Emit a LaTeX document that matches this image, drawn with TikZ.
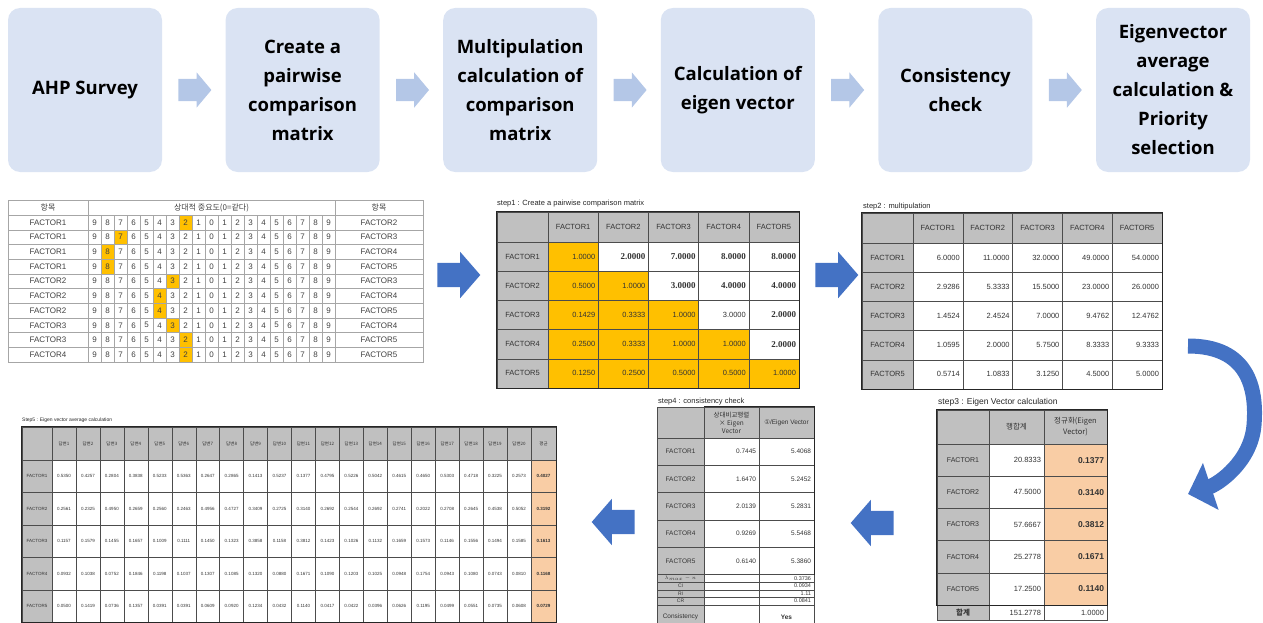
\documentclass[tikz,border=0pt]{standalone}
\usepackage{fontspec}
\setmainfont{Liberation Sans}
\newfontfamily\kr{Noto Sans CJK KR}
\newfontfamily\boxfont{Open Sans}
\newfontfamily\numserif{Liberation Serif}
\newfontfamily\symfont{DejaVu Sans}
\usetikzlibrary{positioning,shapes.arrows,arrows.meta}
\definecolor{boxblue}{HTML}{DAE3F3}
\definecolor{arrowlight}{HTML}{B4C7E7}
\definecolor{arrowblue}{HTML}{4472C4}
\definecolor{cellgray}{HTML}{C0C0C0}
\definecolor{cellorange}{HTML}{FFC000}
\definecolor{cellpeach}{HTML}{F9CDA5}
\newcommand\tabsize[1]{\fontsize{#1}{#1}\selectfont}
\newcommand\boldval[1]{{\numserif\bfseries\fontsize{9}{10}\selectfont #1}}
\begin{document}
\begin{tikzpicture}
        [x=1pt, y=-1pt,
        stepbox/.style={rounded corners=12pt, fill=boxblue, minimum width=154pt, minimum height=164pt, align=center, inner sep=2pt, font=\boxfont\bfseries\fontsize{18.5}{29}\selectfont},
        flowarrow/.style={single arrow, fill=arrowlight, inner xsep=0pt, inner ysep=11pt, minimum height=33pt, single arrow head extend=6.5pt, single arrow tip angle=100},
        bluearrow/.style={single arrow, fill=arrowblue, inner xsep=0pt, inner ysep=12pt, minimum height=43pt, single arrow head extend=11pt, single arrow tip angle=98},
        tabtitle/.style={anchor=west, inner sep=0pt, text=black!85},
        svcell/.style={draw=black!35, inner sep=0pt, text=black!75, font=\tabsize{8}},
        hcell/.style={draw=black!70, fill=cellgray, inner sep=0pt, align=center, text=black!80},
        vcell/.style={draw=black!70, inner xsep=3pt, inner ysep=0pt, align=right, text=black!80},
        ccell/.style={draw=black!70, inner sep=0pt, text=black!80}]
        \useasboundingbox (0,0) rectangle (1263,623);

        % process steps
        \foreach \i/\txt in {0/{AHP Survey}, 1/{Create a\\pairwise\\comparison\\matrix},
                2/{Multipulation\\calculation of\\comparison\\matrix}, 3/{Calculation of\\eigen vector},
                4/{Consistency\\check}, 5/{Eigenvector\\average\\calculation \&\\Priority\\selection}}
            \node [stepbox] (box\i) at ({85+217.6*\i},90) {\txt};
        \foreach \i in {0,...,4}
            \node [flowarrow, right=16pt of box\i] (flow\i) {};

        % survey sheet
        \node [svcell, minimum width=80, minimum height=15] (sv-h1) at (48,207.5) {\kr 항목};
        \node [svcell, minimum width=247, minimum height=15] (sv-h2) at (211.5,207.5) {\kr 상대적 중요도(0=같다)};
        \node [svcell, minimum width=88, minimum height=15] (sv-h3) at (379,207.5) {\kr 항목};
        \foreach \ri/\fa/\fb/\hl in {1/1/2/7, 2/1/3/2, 3/1/4/1, 4/1/5/1, 5/2/3/6, 6/2/4/5, 7/2/5/5, 8/3/4/6, 9/3/5/7, 10/4/5/7} {
            \pgfmathsetmacro\yy{215+14.7*(\ri-0.5)}
            \fill [cellorange] ({88+13*\hl},{\yy-7.35}) rectangle ++(13,14.7);
            \node [svcell, minimum width=80, minimum height=14.7] (sv-a\ri) at (48,\yy) {FACTOR\fa};
            \node [svcell, minimum width=88, minimum height=14.7] (sv-b\ri) at (379,\yy) {FACTOR\fb};
            \foreach \ci in {0,...,18} {
                \pgfmathtruncatemacro\nv{abs(9-\ci)}
                \node [svcell, minimum width=13, minimum height=14.7] (sv-\ri-\ci) at ({94.5+13*\ci},\yy) {\nv};
            }
        }
        \node [bluearrow] (go1) at (453.5,275) {};

        % step1
        \node [tabtitle, font=\tabsize{7.5}] (s1-title) at (497,204) {step1 : Create a pairwise comparison matrix};
        \node [hcell, minimum width=51, minimum height=30] (s1-h0) at (522.5,227) {};
        \foreach \ci in {1,...,5}
            \node [hcell, minimum width=50.2, minimum height=30, font=\tabsize{7.5}] (s1-h\ci) at ({548+50.2*(\ci-0.5)},227) {FACTOR\ci};
        \foreach \ri/\vals in {1/{1.0000,\boldval{2.0000},\boldval{7.0000},\boldval{8.0000},\boldval{8.0000}},
                2/{0.5000,1.0000,\boldval{3.0000},\boldval{4.0000},\boldval{4.0000}},
                3/{0.1429,0.3333,1.0000,3.0000,\boldval{2.0000}},
                4/{0.2500,0.3333,1.0000,1.0000,\boldval{2.0000}},
                5/{0.1250,0.2500,0.5000,0.5000,1.0000}} {
            \node [hcell, minimum width=51, minimum height=29.2, font=\tabsize{7.5}] (s1-f\ri) at (522.5,{242+29.2*(\ri-0.5)}) {FACTOR\ri};
            \foreach \v [count=\ci] in \vals {
                \ifnum\ci>\ri \def\cf{white}\else \def\cf{cellorange}\fi
                \node [vcell, fill=\cf, text width=44.2, minimum height=29.2, font=\tabsize{7.5}] (s1-\ri-\ci) at ({548+50.2*(\ci-0.5)},{242+29.2*(\ri-0.5)}) {\v};
            }
        }
        \draw [line width=1.2pt, black!85] (s1-h0.north west) rectangle (s1-5-5.south east);
        \node [bluearrow] (go2) at (831.5,275) {};

        % step2
        \node [tabtitle, font=\tabsize{7.5}] (s2-title) at (863,207) {step2 : multipulation};
        \node [hcell, minimum width=51, minimum height=30] (s2-h0) at (887.5,228) {};
        \foreach \ci in {1,...,5}
            \node [hcell, minimum width=49.8, minimum height=30, font=\tabsize{7.5}] (s2-h\ci) at ({913+49.8*(\ci-0.5)},228) {FACTOR\ci};
        \foreach \ri/\vals in {1/{6.0000,11.0000,32.0000,49.0000,54.0000},
                2/{2.9286,5.3333,15.5000,23.0000,26.0000},
                3/{1.4524,2.4524,7.0000,9.4762,12.4762},
                4/{1.0595,2.0000,5.7500,8.3333,9.3333},
                5/{0.5714,1.0833,3.1250,4.5000,5.0000}} {
            \node [hcell, minimum width=51, minimum height=29.2, font=\tabsize{7.5}] (s2-f\ri) at (887.5,{243+29.2*(\ri-0.5)}) {FACTOR\ri};
            \foreach \v [count=\ci] in \vals
                \node [vcell, text width=43.8, minimum height=29.2, font=\tabsize{7.5}] (s2-\ri-\ci) at ({913+49.8*(\ci-0.5)},{243+29.2*(\ri-0.5)}) {\v};
        }
        \draw [line width=1.2pt, black!85] (s2-h0.north west) rectangle (s2-5-5.south east);

        % turn down to step3
        \coordinate (bend-a) at (1188,346);
        \coordinate (bend-b) at (1188,494);
        \draw [arrowblue, line width=15pt, -{Triangle[length=24pt,width=48pt]}] (bend-a) .. controls (1248,346) and (1257,388) .. (1254,425)
            .. controls (1251,462) and (1218,484) .. (bend-b);

        % step3
        \node [tabtitle, font=\tabsize{8.5}] (s3-title) at (938,402) {step3 : Eigen Vector calculation};
        \node [hcell, minimum width=52, minimum height=34] (s3-h0) at (963,427) {};
        \node [hcell, minimum width=55, minimum height=34, font=\kr\tabsize{7.5}] (s3-h1) at (1016.5,427) {행합계};
        \node [hcell, minimum width=63, minimum height=34, font=\kr\fontsize{7.5}{11}\selectfont] (s3-h2) at (1075.5,427) {정규화(Eigen\\Vector)};
        \foreach \ri/\va/\vb in {1/20.8333/0.1377, 2/47.5000/0.3140, 3/57.6667/0.3812, 4/25.2778/0.1671, 5/17.2500/0.1140} {
            \node [hcell, minimum width=52, minimum height=32.2, font=\tabsize{7}] (s3-f\ri) at (963,{444+32.2*(\ri-0.5)}) {FACTOR\ri};
            \node [vcell, text width=49, minimum height=32.2, font=\tabsize{7.5}] (s3-a\ri) at (1016.5,{444+32.2*(\ri-0.5)}) {\va};
            \node [vcell, fill=cellpeach, text width=57, minimum height=32.2, font=\bfseries\tabsize{8.5}] (s3-b\ri) at (1075.5,{444+32.2*(\ri-0.5)}) {\vb};
        }
        \node [hcell, minimum width=52, minimum height=15, font=\kr\bfseries\tabsize{7.5}] (s3-sum) at (963,613) {합계};
        \node [vcell, text width=49, minimum height=15, font=\tabsize{7.5}] (s3-sum-a) at (1016.5,613) {151.2778};
        \node [vcell, text width=57, minimum height=15, font=\tabsize{7.5}] (s3-sum-b) at (1075.5,613) {1.0000};
        \draw [line width=1.2pt, black!85] (s3-h0.north west) rectangle (s3-b5.south east);
        \node [bluearrow, shape border rotate=180] (go3) at (877.5,523) {};

        % step4
        \node [tabtitle, font=\tabsize{7.5}] (s4-title) at (658,402) {step4 : consistency check};
        \node [hcell, minimum width=47, minimum height=31] (s4-h0) at (680.5,422.5) {};
        \node [hcell, minimum width=55, minimum height=31, font=\kr\fontsize{6.5}{8}\selectfont] (s4-h1) at (731.5,422.5) {상대비교행렬\\× Eigen\\Vector};
        \node [hcell, minimum width=55, minimum height=31, font=\tabsize{6.5}] (s4-h2) at (786.5,422.5) {{\symfont ①}/Eigen Vector};
        \foreach \ri/\va/\vb in {1/0.7445/5.4068, 2/1.6470/5.2452, 3/2.0139/5.2831, 4/0.9269/5.5468, 5/0.6140/5.3860} {
            \node [hcell, minimum width=47, minimum height=27.3, font=\tabsize{6.5}] (s4-f\ri) at (680.5,{438+27.3*(\ri-0.5)}) {FACTOR\ri};
            \node [vcell, text width=49, minimum height=27.3, font=\tabsize{6.5}] (s4-a\ri) at (731.5,{438+27.3*(\ri-0.5)}) {\va};
            \node [vcell, text width=49, minimum height=27.3, font=\tabsize{6.5}] (s4-b\ri) at (786.5,{438+27.3*(\ri-0.5)}) {\vb};
        }
        \foreach \ri/\lab/\val in {1/{$\lambda_{max}-n$}/0.3736, 2/CI/0.0934, 3/RI/1.11, 4/CR/0.0841} {
            \node [hcell, minimum width=47, minimum height=7.6, font=\tabsize{5}] (s4-g\ri) at (680.5,{574.5+7.6*(\ri-0.5)}) {\lab};
            \node [vcell, text width=49, minimum height=7.6, font=\tabsize{5.5}] (s4-c\ri) at (731.5,{574.5+7.6*(\ri-0.5)}) {};
            \node [vcell, text width=49, minimum height=7.6, font=\tabsize{5.5}] (s4-d\ri) at (786.5,{574.5+7.6*(\ri-0.5)}) {\val};
        }
        \node [hcell, minimum width=47, minimum height=24, font=\tabsize{6.5}] (s4-ok) at (680.5,617) {Consistency};
        \node [ccell, minimum width=55, minimum height=24] (s4-ok-a) at (731.5,617) {};
        \node [ccell, minimum width=55, minimum height=24, font=\bfseries\tabsize{6.5}] (s4-ok-b) at (786.5,617) {Yes};
        \draw [line width=1.2pt, black!85] (s4-h1.north west) -- (s4-h2.north east) -- (s4-b5.south east);
        \node [bluearrow, shape border rotate=180] (go4) at (618.5,522) {};

        % step5
        \node [tabtitle, font=\tabsize{5}] (s5-title) at (22,420) {Step5 : Eigen vector average calculation};
        \node [hcell, minimum width=30, minimum height=33] (s5-h0) at (37,443.5) {};
        \foreach \ci in {1,...,20}
            \node [hcell, minimum width=23.95, minimum height=33, font=\kr\tabsize{4.5}] (s5-h\ci) at ({52+23.95*(\ci-0.5)},443.5) {답변\ci};
        \node [hcell, minimum width=25, minimum height=33, font=\kr\tabsize{4.5}] (s5-h21) at (543.5,443.5) {평균};
        \foreach \ri/\vals/\avg in {1/{0.5350,0.4257,0.2804,0.3838,0.5233,0.5363,0.2647,0.2865,0.1413,0.5237,0.1377,0.4795,0.5226,0.5042,0.4615,0.4650,0.5303,0.4718,0.3225,0.2573}/0.4027,
                2/{0.2561,0.2325,0.4950,0.2659,0.2560,0.2463,0.4956,0.4727,0.3409,0.2725,0.3140,0.2692,0.2544,0.2692,0.2741,0.2022,0.2708,0.2645,0.4538,0.5052}/0.3192,
                3/{0.1157,0.1579,0.1455,0.1657,0.1009,0.1111,0.1450,0.1323,0.3858,0.1158,0.3812,0.1423,0.1026,0.1132,0.1659,0.1573,0.1146,0.1556,0.1494,0.1585}/0.1613,
                4/{0.0932,0.1038,0.0752,0.1846,0.1198,0.1037,0.1307,0.1085,0.1320,0.0880,0.1671,0.1090,0.1203,0.1025,0.0948,0.1754,0.0943,0.1080,0.0743,0.0810}/0.1168,
                5/{0.0500,0.1419,0.0736,0.1357,0.0391,0.0391,0.0609,0.0920,0.1234,0.0432,0.1140,0.0417,0.0422,0.0396,0.0626,0.1195,0.0499,0.0551,0.0735,0.0608}/0.0729} {
            \node [hcell, minimum width=30, minimum height=32.5, font=\tabsize{4.5}] (s5-f\ri) at (37,{460+32.5*(\ri-0.5)}) {FACTOR\ri};
            \foreach \v [count=\ci] in \vals
                \node [ccell, minimum width=23.95, minimum height=32.5, font=\tabsize{4.5}] (s5-\ri-\ci) at ({52+23.95*(\ci-0.5)},{460+32.5*(\ri-0.5)}) {\v};
            \node [ccell, fill=cellpeach, minimum width=25, minimum height=32.5, font=\bfseries\tabsize{4.5}] (s5-a\ri) at (543.5,{460+32.5*(\ri-0.5)}) {\avg};
        }
        \draw [line width=1pt, black!85] (s5-h0.north west) rectangle (s5-a5.south east);
\end{tikzpicture}
\end{document}
